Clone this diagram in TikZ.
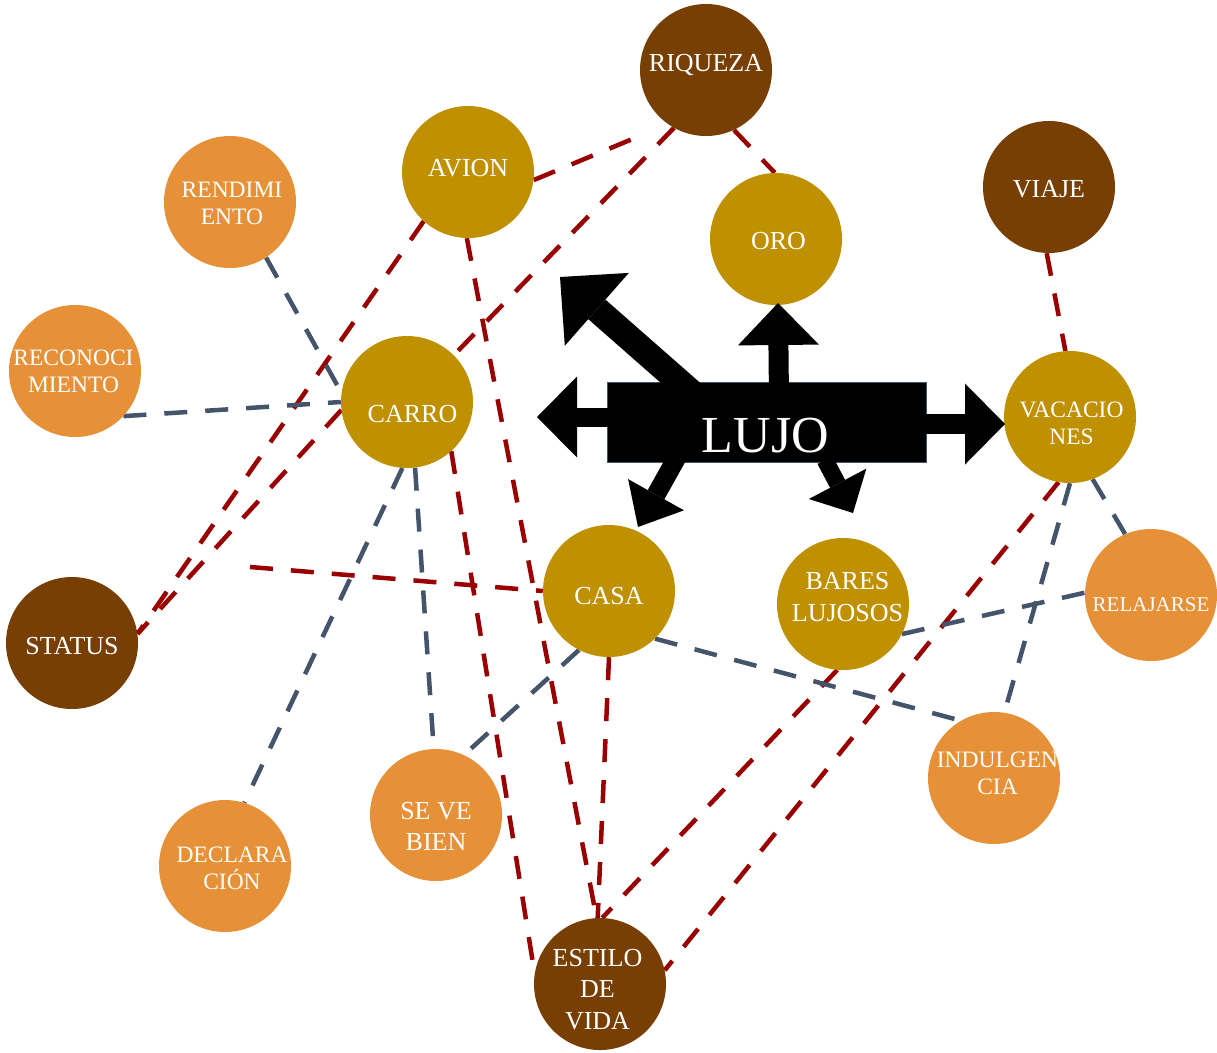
\documentclass[tikz,border=0pt]{standalone}
\usepackage{fontspec}
\setmainfont{Liberation Serif}
\usetikzlibrary{arrows.meta}

\definecolor{browndeep}{HTML}{783F04}
\definecolor{goldfill}{HTML}{BF9000}
\definecolor{orangefill}{HTML}{E69138}
\definecolor{linkred}{HTML}{990000}
\definecolor{slate}{HTML}{44546A}

\pgfdeclarelayer{links}
\pgfsetlayers{links,main}

\tikzset{
  bubble/.style={circle, minimum size=132pt, inner sep=0pt, draw=none},
  bubbledark/.style={bubble, fill=browndeep},
  bubblegold/.style={bubble, fill=goldfill},
  bubblelight/.style={bubble, fill=orangefill},
  lbl/.style={text=white, align=center, inner sep=0pt, font=\fontsize{26}{31.5}\selectfont},
  lblsmall/.style={lbl, font=\fontsize{23.5}{27}\selectfont},
  redlink/.style={draw=linkred, line width=4.5pt, dash pattern=on 23pt off 18pt},
  bluelink/.style={draw=slate, line width=4.5pt, dash pattern=on 23pt off 18pt},
  blockarrow/.style n args={3}{draw=black, line width=#1,
    -{Triangle[width=#2, length=#3, line width=0pt]}},
}

\begin{document}
\begin{tikzpicture}[x=1pt, y=-1pt]
\useasboundingbox (0,0) rectangle (1217,1052);

% concept bubbles
\node[bubbledark]  (riqueza)        at (706,70)   {};
\node[bubblegold]  (avion)          at (468,172)  {};
\node[bubblegold]  (oro)            at (776,239)  {};
\node[bubblelight] (rendimiento)    at (230,202)  {};
\node[bubbledark]  (viaje)          at (1049,187) {};
\node[bubblelight] (reconocimiento) at (75,371)   {};
\node[bubblegold]  (carro)          at (407,402)  {};
\node[bubblegold]  (vacaciones)     at (1070,417) {};
\node[bubblegold]  (casa)           at (609,591)  {};
\node[bubblegold]  (bares)          at (843,604)  {};
\node[bubblelight] (relajarse)      at (1151,595) {};
\node[bubbledark]  (status)         at (72,643)   {};
\node[bubblelight] (indulgencia)    at (994,778)  {};
\node[bubblelight] (seve)           at (436,815)  {};
\node[bubblelight] (declaracion)    at (225,866)  {};
\node[bubbledark]  (estilo)         at (600,984)  {};

% bubble captions
\node[lbl]      (riqueza-t)        at (706,65)    {RIQUEZA};
\node[lbl]      (avion-t)          at (468,168.5) {AVION};
\node[lbl]      (oro-t)            at (778.5,241) {ORO};
\node[lblsmall] (rendimiento-t)    at (232,203)   {RENDIMI\\ENTO};
\node[lbl]      (viaje-t)          at (1049,189)  {VIAJE};
\node[lblsmall] (reconocimiento-t) at (73.5,371.5){RECONOCI\\MIENTO};
\node[lbl]      (carro-t)          at (412.5,414) {CARRO};
\node[lblsmall] (vacaciones-t)     at (1071.5,423.5){VACACIO\\NES};
\node[lbl]      (casa-t)           at (609,596)   {CASA};
\node[lbl]      (bares-t)          at (847.5,597) {BARES\\LUJOSOS};
\node[lbl, font=\fontsize{21}{25}\selectfont] (relajarse-t) at (1151,605) {RELAJARSE};
\node[lbl]      (status-t)         at (72,646)    {STATUS};
\node[lblsmall] (indulgencia-t)    at (997.5,773.5){INDULGEN\\CIA};
\node[lbl]      (seve-t)           at (436,826.5) {SE VE\\BIEN};
\node[lblsmall] (declaracion-t)    at (232,868)   {DECLARA\\CIÓN};
\node[lbl]      (estilo-t)         at (597.5,989.5){ESTILO\\DE\\VIDA};

\coordinate (redstub) at (250,567);

% dashed links, kept beneath the bubbles
\begin{pgfonlayer}{links}
  \draw[redlink, shorten >=24pt] (avion.-7) -- (riqueza.235);
  \draw[redlink] (riqueza.241) -- (carro.45);
  \draw[redlink] (riqueza.295) -- (oro.91);
  \draw[redlink] (avion.228) -- (status.8);
  \draw[redlink] (carro.187) -- (status.8);
  \draw[redlink] (avion.269) -- (estilo.93);
  \draw[redlink] (carro.312) -- (estilo.171);
  \draw[redlink] (redstub) -- (casa.180);
  \draw[redlink] (casa.270) -- (estilo.92);
  \draw[redlink] (bares.265) -- (estilo.88);
  \draw[redlink] (vacaciones.260) -- (estilo.12);
  \draw[redlink] (viaje.268) -- (vacaciones.94);

  \draw[bluelink] (rendimiento.303) -- (carro.172);
  \draw[bluelink] (reconocimiento.317) -- (carro.180);
  \draw[bluelink] (carro.266) -- (declaracion.73);
  \draw[bluelink] (carro.277) -- (seve.92);
  \draw[bluelink] (casa.243) -- (seve.65);
  \draw[bluelink] (casa.314) -- (indulgencia.120);
  \draw[bluelink] (bares.333) -- (relajarse.178);
  \draw[bluelink] (vacaciones.290) -- (relajarse.113);
  \draw[bluelink] (vacaciones.270) -- (indulgencia.81);
\end{pgfonlayer}

% central LUJO block with its radiating arrows
\node[draw=slate, fill=black, line width=1pt, minimum width=319pt, minimum height=80pt,
      inner sep=0pt] (lujo) at (766.5,422) {};

\coordinate (tip-left)   at (537,417);
\coordinate (tip-right)  at (1005,424);
\coordinate (tip-up)     at (778,303);
\coordinate (tip-upleft) at (560,277);
\coordinate (tip-casa)   at (638,527);
\coordinate (tip-bares)  at (853,513);

\draw[blockarrow={19pt}{81pt}{40pt}] (lujo.west |- tip-left) ++(15,0) -- (tip-left);
\draw[blockarrow={20pt}{81pt}{40pt}] (lujo.east |- tip-right) ++(-20,0) -- (tip-right);
\draw[blockarrow={20pt}{81pt}{42pt}] (779,400) -- (tip-up);
\draw[blockarrow={26pt}{97pt}{49pt}] (700,400) -- (tip-upleft);
\draw[blockarrow={19pt}{64pt}{37pt}] (681,450) -- (tip-casa);
\draw[blockarrow={17pt}{65pt}{33pt}] (825,460) -- (tip-bares);

\node[text=white, inner sep=0pt, font=\fontsize{52}{56}\selectfont, anchor=base]
  (lujo-t) at (765.5,452) {LUJO};
\end{tikzpicture}
\end{document}
